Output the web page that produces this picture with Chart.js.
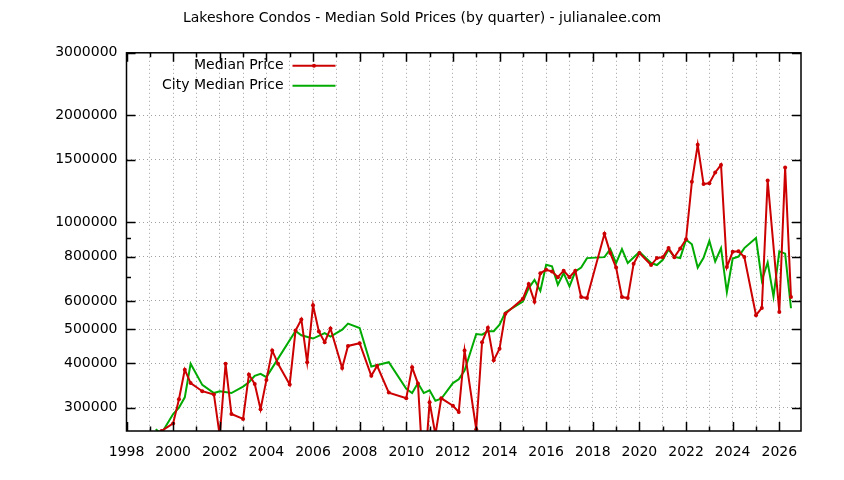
<!DOCTYPE html>
<html>
<head>
<meta charset="utf-8">
<title>Lakeshore Condos - Median Sold Prices</title>
<script src="https://cdn.jsdelivr.net/npm/chart.js@4.4.1/dist/chart.umd.min.js"></script>
<style>
  html, body { margin: 0; padding: 0; background: #fff; }
  #wrap { width: 844px; height: 480px; }
</style>
</head>
<body>
<div id="wrap"><canvas id="priceChart" width="844" height="480"></canvas></div>
<script>
// quarterly medians
const medianYears = [
    1999.5, 2000, 2000.25, 2000.5, 2000.75, 2001.25, 2001.75, 2002, 2002.25, 2002.5,
    2003, 2003.25, 2003.5, 2003.75, 2004, 2004.25, 2004.5, 2005, 2005.25, 2005.5,
    2005.75, 2006, 2006.25, 2006.5, 2006.75, 2007.25, 2007.5, 2008, 2008.5, 2008.75,
    2009.25, 2010, 2010.25, 2010.5, 2010.75, 2011, 2011.25, 2011.5, 2012, 2012.25,
    2012.5, 2013, 2013.25, 2013.5, 2013.75, 2014, 2014.25, 2015, 2015.25, 2015.5,
    2015.75, 2016, 2016.25, 2016.5, 2016.75, 2017, 2017.25, 2017.5, 2017.75, 2018.5,
    2018.75, 2019, 2019.25, 2019.5, 2019.75, 2020, 2020.5, 2020.75, 2021, 2021.25,
    2021.5, 2021.75, 2022, 2022.25, 2022.5, 2022.75, 2023, 2023.25, 2023.5, 2023.75,
    2024, 2024.25, 2024.5, 2025, 2025.25, 2025.5, 2026, 2026.25, 2026.5
];
const medianPrices = [
    258000, 271000, 317000, 384000, 352000, 334000, 327000, 250000, 399000, 288000,
    279000, 372000, 350000, 297000, 359000, 435000, 399000, 349000, 495000, 532000,
    403000, 583000, 492000, 459000, 502000, 388000, 448000, 456000, 369000, 394000,
    331000, 319000, 390000, 351000, 185000, 311000, 252000, 319000, 304000, 292000,
    435000, 261000, 459000, 504000, 408000, 440000, 552000, 608000, 669000, 597000,
    718000, 734000, 726000, 700000, 730000, 700000, 730000, 615000, 611000, 927000,
    818000, 745000, 615000, 611000, 763000, 818000, 757000, 792000, 796000, 845000,
    797000, 843000, 895000, 1299000, 1652000, 1280000, 1288000, 1380000, 1450000, 747000,
    825000, 828000, 798000, 547000, 573000, 1311000, 558000, 1426000, 615000
];

const cityYears = [
    1999.25, 1999.5, 2000, 2000.25, 2000.5, 2000.75, 2001.25, 2001.75, 2002, 2002.5,
    2003, 2003.25, 2003.5, 2003.75, 2004, 2005.25, 2005.5, 2006, 2006.5, 2006.75,
    2007.25, 2007.5, 2008, 2008.5, 2009.25, 2010, 2010.25, 2010.5, 2010.75, 2011,
    2011.25, 2011.5, 2012, 2012.25, 2012.5, 2013, 2013.25, 2013.5, 2013.75, 2014,
    2014.25, 2015, 2015.25, 2015.5, 2015.75, 2016, 2016.25, 2016.5, 2016.75, 2017,
    2017.25, 2017.5, 2017.75, 2018.5, 2018.75, 2019, 2019.25, 2019.5, 2020, 2020.5,
    2020.75, 2021, 2021.25, 2021.5, 2021.75, 2022, 2022.25, 2022.5, 2022.75, 2023,
    2023.25, 2023.5, 2023.75, 2024, 2024.25, 2024.5, 2025, 2025.25, 2025.5, 2025.75,
    2026, 2026.25, 2026.5
];
const cityPrices = [
    261000, 254000, 288000, 300000, 321000, 399000, 348000, 330000, 334000, 330000,
    344000, 354000, 369000, 374000, 366000, 494000, 480000, 470000, 487000, 476000,
    498000, 518000, 503000, 392000, 403000, 339000, 330000, 352000, 330000, 336000,
    314000, 318000, 352000, 361000, 382000, 484000, 482000, 493000, 493000, 514000,
    557000, 597000, 652000, 688000, 640000, 759000, 751000, 666000, 719000, 659000,
    726000, 745000, 792000, 797000, 840000, 767000, 840000, 767000, 824000, 767000,
    757000, 783000, 837000, 798000, 792000, 893000, 866000, 745000, 794000, 886000,
    775000, 845000, 635000, 790000, 800000, 845000, 902000, 685000, 770000, 617000,
    827000, 815000, 572000
];

const yearTicks = [
    1998, 1999, 2000, 2001, 2002, 2003, 2004, 2005, 2006, 2007, 2008, 2009, 2010, 2011,
    2012, 2013, 2014, 2015, 2016, 2017, 2018, 2019, 2020, 2021, 2022, 2023, 2024, 2025, 2026
];
const priceTicks = [300000, 400000, 500000, 600000, 700000, 800000, 900000, 1000000, 1500000, 2000000, 3000000];
const priceLabels = [300000, 400000, 500000, 600000, 800000, 1000000, 1500000, 2000000, 3000000];

const RED = '#cc0000';
const GREEN = '#00aa00';
const FONT = '"DejaVu Sans", Verdana, sans-serif';

function toPoints(xs, ys) {
    return xs.map((x, i) => ({ x: x, y: ys[i] }));
}

// gnuplot style: black frame, inward ticks on all four sides, key top-left
const framePlugin = {
    id: 'frame',
    afterDraw(chart) {
        const ctx = chart.ctx;
        const a = chart.chartArea;
        const xs = chart.scales.x;
        const ys = chart.scales.y;
        ctx.save();
        ctx.strokeStyle = '#000';
        ctx.lineWidth = 1.5;
        ctx.beginPath();
        yearTicks.forEach(v => {
            const px = Math.round(xs.getPixelForValue(v)) + 0.5;
            const len = v % 2 === 0 ? 9 : 4.5;
            ctx.moveTo(px, a.bottom); ctx.lineTo(px, a.bottom - len);
            ctx.moveTo(px, a.top); ctx.lineTo(px, a.top + len);
        });
        priceTicks.forEach(v => {
            const py = Math.round(ys.getPixelForValue(v)) + 0.5;
            const len = priceLabels.includes(v) ? 9 : 4.5;
            ctx.moveTo(a.left, py); ctx.lineTo(a.left + len, py);
            ctx.moveTo(a.right, py); ctx.lineTo(a.right - len, py);
        });
        ctx.stroke();
        ctx.strokeRect(a.left, a.top, a.right - a.left, a.bottom - a.top);

        // key
        ctx.font = '14px ' + FONT;
        ctx.fillStyle = '#000';
        ctx.textAlign = 'right';
        ctx.textBaseline = 'middle';
        const keyX = a.left + 157, lineX0 = a.left + 166, lineX1 = a.left + 209;
        chart.data.datasets.forEach((ds, i) => {
            const ky = a.top + 13 + i * 20;
            ctx.fillText(ds.label, keyX, ky);
            ctx.strokeStyle = ds.borderColor;
            ctx.lineWidth = 2;
            ctx.beginPath();
            ctx.moveTo(lineX0, ky); ctx.lineTo(lineX1, ky);
            ctx.stroke();
            if (ds.pointRadius > 0) {
                ctx.fillStyle = ds.borderColor;
                ctx.beginPath();
                ctx.arc((lineX0 + lineX1) / 2, ky, ds.pointRadius, 0, Math.PI * 2);
                ctx.fill();
                ctx.fillStyle = '#000';
            }
        });
        ctx.restore();
    }
};

new Chart(document.getElementById('priceChart'), {
    type: 'line',
    data: {
        datasets: [
            {
                label: 'Median Price',
                data: toPoints(medianYears, medianPrices),
                borderColor: RED,
                backgroundColor: RED,
                borderWidth: 2,
                pointRadius: 2,
                pointBorderWidth: 0,
                pointBackgroundColor: RED,
                tension: 0
            },
            {
                label: 'City Median Price',
                data: toPoints(cityYears, cityPrices),
                borderColor: GREEN,
                backgroundColor: GREEN,
                borderWidth: 2,
                pointRadius: 0,
                tension: 0
            }
        ]
    },
    options: {
        responsive: false,
        animation: false,
        devicePixelRatio: 1,
        layout: { padding: 0 },
        plugins: {
            legend: { display: false },
            tooltip: { enabled: false },
            title: {
                display: true,
                text: 'Lakeshore Condos - Median Sold Prices (by quarter) - julianalee.com',
                color: '#000',
                font: { family: FONT, size: 14, weight: 'normal' },
                padding: { top: 10, bottom: 26 }
            }
        },
        scales: {
            x: {
                type: 'linear',
                min: 1998,
                max: 2026.93,
                afterBuildTicks: s => { s.ticks = yearTicks.map(v => ({ value: v })); },
                afterFit: s => { s.height = 49; },
                ticks: {
                    autoSkip: false,
                    maxRotation: 0,
                    padding: 13,
                    color: '#000',
                    font: { family: FONT, size: 14 },
                    callback: v => (v % 2 === 0 ? String(v) : '')
                },
                grid: { color: '#a0a0a0', lineWidth: 1, drawTicks: false },
                border: { display: false, dash: [1, 3] }
            },
            y: {
                type: 'logarithmic',
                min: 258000,
                max: 3000000,
                afterBuildTicks: s => { s.ticks = priceTicks.map(v => ({ value: v })); },
                afterFit: s => { s.width = 126.5; },
                ticks: {
                    autoSkip: false,
                    padding: 9,
                    color: '#000',
                    font: { family: FONT, size: 14 },
                    callback: v => (priceLabels.includes(v) ? String(v) : '')
                },
                grid: {
                    color: c => (c.tick && priceLabels.includes(c.tick.value) ? '#a0a0a0' : 'rgba(0,0,0,0)'),
                    lineWidth: 1,
                    drawTicks: false
                },
                border: { display: false, dash: [1, 3] }
            },
            // empty right margin so the title stays centred on the full page
            margin: {
                type: 'linear',
                position: 'right',
                display: true,
                afterFit: s => { s.width = 43; },
                ticks: { display: false },
                grid: { display: false, drawTicks: false },
                border: { display: false }
            }
        }
    },
    plugins: [framePlugin]
});
</script>
</body>
</html>
